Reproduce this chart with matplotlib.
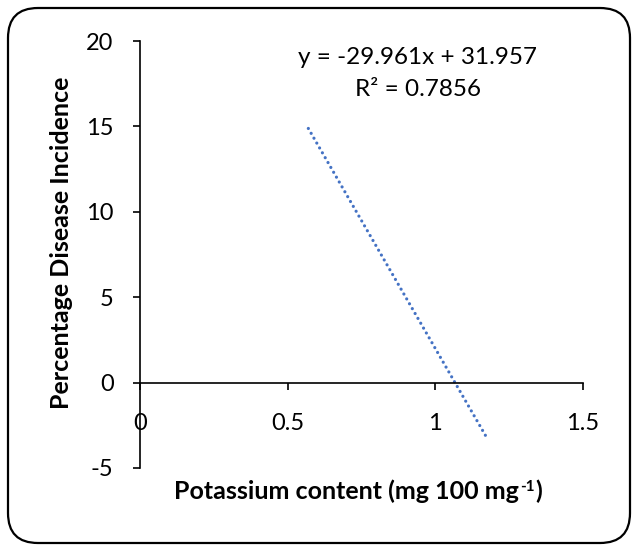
import matplotlib
matplotlib.use("Agg")
import matplotlib.pyplot as plt
from matplotlib.patches import FancyBboxPatch

# Data (trendline)
trend_x = [0.57, 1.17]
trend_y = [14.88, -3.10]
x_ticks = [0, 0.5, 1, 1.5]
x_ticklabels = ["0", "0.5", "1", "1.5"]
y_ticks = [-5, 0, 5, 10, 15, 20]
y_ticklabels = ["-5", "0", "5", "10", "15", "20"]
eq_text = "y = -29.961x + 31.957"
r2_text = "R² = 0.7856"
x_label = "Potassium content (mg 100 mg"
x_label_sup = "-1"
y_label = "Percentage Disease Incidence"

plt.rcParams['font.family'] = ['Lato', 'DejaVu Sans']

fig = plt.figure(figsize=(6.38, 5.5), dpi=100)
fig.patch.set_facecolor('white')

# rounded border
box = FancyBboxPatch((0.08 + 0.3, 0.07 + 0.3), 6.22 - 0.6, 5.35 - 0.6,
                     boxstyle="round,pad=0.3", transform=fig.dpi_scale_trans,
                     facecolor='none', edgecolor='black', linewidth=1.6, zorder=-1)
fig.patches.append(box)

ax = fig.add_axes([140/638, 1 - 468/550, (583 - 140)/638, (468 - 41)/550])
ax.set_facecolor('none')
ax.set_xlim(0, 1.5)
ax.set_ylim(-5, 20)

ax.plot(trend_x, trend_y, color='#4472C4', linewidth=2.3,
        linestyle=(0, (0.01, 1.75)), dash_capstyle='round', solid_capstyle='round')

for s in ['top', 'right']:
    ax.spines[s].set_visible(False)
ax.spines['bottom'].set_position(('data', 0))
ax.spines['left'].set_linewidth(1.2)
ax.spines['bottom'].set_linewidth(1.2)

ax.set_xticks(x_ticks)
ax.set_xticklabels(x_ticklabels)
ax.set_yticks(y_ticks)
ax.set_yticklabels(y_ticklabels)
ax.tick_params(axis='x', direction='out', length=5, width=1.2, pad=17, labelsize=17)
ax.tick_params(axis='y', direction='out', length=5, width=1.2, pad=14, labelsize=17)

fig.text(418/638, 1 - 58/550, eq_text, ha='center', va='center', fontsize=17.5)
fig.text(418/638, 1 - 90/550, r2_text, ha='center', va='center', fontsize=17.5)

# x label with small superscript, assembled from pieces
renderer = fig.canvas.get_renderer()
t1 = fig.text(0, 0, x_label, fontsize=18, fontweight='bold', va='baseline')
t2 = fig.text(0, 0, x_label_sup, fontsize=11, fontweight='bold', va='baseline')
t3 = fig.text(0, 0, ")", fontsize=18, fontweight='bold', va='baseline')
w1 = t1.get_window_extent(renderer).width
w2 = t2.get_window_extent(renderer).width
w3 = t3.get_window_extent(renderer).width
total = w1 + w2 + w3 + 1
cx = 358
base_y = 550 - 499
x0 = cx - total / 2
t1.set_position((x0 / 638, base_y / 550))
t2.set_position(((x0 + w1 + 0.5) / 638, (base_y + 8) / 550))
t3.set_position(((x0 + w1 + w2 + 1) / 638, base_y / 550))

fig.text(62/638, 1 - 243/550, y_label, ha='center', va='center', fontsize=18,
         fontweight='bold', rotation=90)

fig.savefig("out.png", dpi=100)
